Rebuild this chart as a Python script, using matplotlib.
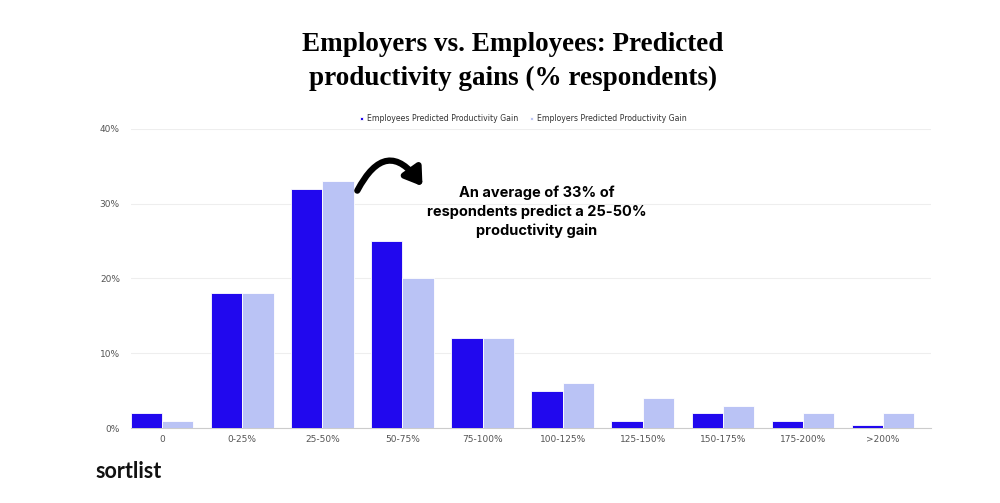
import matplotlib.pyplot as plt
from matplotlib.ticker import FuncFormatter

categories = ['0', '0-25%', '25-50%', '50-75%', '75-100%', '100-125%',
              '125-150%', '150-175%', '175-200%', '>200%']
employees = [2, 18, 32, 25, 12, 5, 1, 2, 1, 0.4]
employers = [1, 18, 33, 20, 12, 6, 4, 3, 2, 2]

dark = '#2108EE'
light = '#BAC3F5'

fig = plt.figure(figsize=(10, 5.03), dpi=100)
ax = fig.add_axes([0.131, 0.149, 0.80, 0.595])

x = list(range(len(categories)))
w = 0.39
ax.bar([i - w / 2 for i in x], employees, width=w, color=dark, edgecolor='white',
       linewidth=0.6, label='Employees Predicted Productivity Gain', zorder=3)
ax.bar([i + w / 2 for i in x], employers, width=w, color=light, edgecolor='white',
       linewidth=0.6, label='Employers Predicted Productivity Gain', zorder=3)

ax.set_xlim(-0.39, 9.6)
ax.set_ylim(0, 40)
ax.set_yticks([0, 10, 20, 30, 40])
ax.yaxis.set_major_formatter(FuncFormatter(lambda v, p: f'{int(v)}%'))
ax.set_xticks(x)
ax.set_xticklabels(categories)
ax.tick_params(axis='both', length=0, labelsize=6.5, labelcolor='#555555')
ax.tick_params(axis='y', pad=8)
ax.tick_params(axis='x', pad=5)
ax.grid(axis='y', color='#eeeeee', linewidth=0.8, zorder=0)
for s in ['top', 'right', 'left']:
    ax.spines[s].set_visible(False)
ax.spines['bottom'].set_color('#cccccc')

leg = ax.legend(loc='lower center', bbox_to_anchor=(0.49, 0.995), ncol=2,
                frameon=False, fontsize=5.6, handlelength=0.4, handleheight=0.4,
                columnspacing=1.5, handletextpad=0.5, labelcolor='#333333')

fig.text(0.513, 0.912, 'Employers vs. Employees: Predicted', ha='center', va='center',
         fontsize=19.5, fontweight='bold', family='Liberation Serif')
fig.text(0.513, 0.845, 'productivity gains (% respondents)', ha='center', va='center',
         fontsize=19.5, fontweight='bold', family='Liberation Serif')

ax.annotate('', xy=(3.27, 32.0), xytext=(2.42, 31.4),
            arrowprops=dict(arrowstyle='-|>,head_length=1.0,head_width=0.65',
                            connectionstyle='arc3,rad=-0.85', color='black', lw=4.5))
ax.text(4.68, 28.9, 'An average of 33% of\nrespondents predict a 25-50%\nproductivity gain',
        ha='center', va='center', fontsize=10.5, fontweight='bold', family='Inter',
        linespacing=1.4, zorder=5)

fig.text(0.095, 0.062, 'sortlist', fontsize=15.5, fontweight='bold', family='Lato',
         color='#111111', va='center')

fig.savefig('out.png', dpi=100)
